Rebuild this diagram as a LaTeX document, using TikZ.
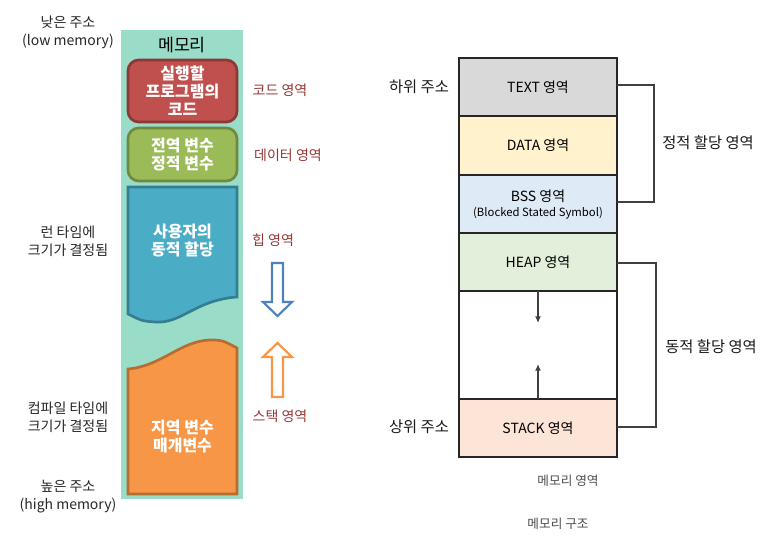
\documentclass[tikz,border=0pt]{standalone}
\usepackage{fontspec}
\setmainfont{Noto Sans CJK KR}
\definecolor{memteal}{HTML}{99DCC8}
\definecolor{codered}{HTML}{C0504D}
\definecolor{codeline}{HTML}{8C3836}
\definecolor{datagreen}{HTML}{9BBB59}
\definecolor{dataline}{HTML}{71893F}
\definecolor{heapblue}{HTML}{4BACC6}
\definecolor{heapline}{HTML}{357D91}
\definecolor{stackorange}{HTML}{F79646}
\definecolor{stackline}{HTML}{B66D31}
\definecolor{areared}{HTML}{953734}
\definecolor{arrowblue}{HTML}{4F81BD}
\definecolor{textgray}{HTML}{D9D9D9}
\definecolor{datayellow}{HTML}{FFF2CC}
\definecolor{bsslight}{HTML}{DEEBF7}
\definecolor{heaplight}{HTML}{E2EFDA}
\definecolor{stacklight}{HTML}{FCE4D6}
\definecolor{darkline}{HTML}{404040}
\tikzset{
  boxtext/.style={text=white, font=\fontsize{12}{13.5}\selectfont\bfseries, align=center},
  arealabel/.style={text=areared, font=\fontsize{10.5}{12}\selectfont},
  sidelabel/.style={text=black!85, font=\fontsize{10.5}{13.5}\selectfont, align=center},
  memcell/.style={draw=black!85, line width=1.1pt},
  celltext/.style={font=\fontsize{10.5}{12}\selectfont, align=center},
  addrlabel/.style={text=black!90, font=\fontsize{11.5}{13}\selectfont},
  brace/.style={draw=darkline, line width=1.1pt},
  growarrow/.style={draw=darkline, line width=1pt, -{Latex[length=5pt,width=4.5pt]}},
  captiontext/.style={text=black!70, font=\fontsize{9.5}{12}\selectfont},
}
\usetikzlibrary{arrows.meta}
\begin{document}
\begin{tikzpicture}[x=0.75pt,y=-0.75pt]
  \useasboundingbox (0,0) rectangle (781,538);
  % left panel: memory column
  \fill[memteal] (121,30) rectangle (243,499);
  \node[font=\fontsize{13}{15}\selectfont] (memtitle) at (182,45) {메모리};

  \draw[codeline, fill=codered, line width=2pt, rounded corners=8pt] (128,60) rectangle (237,122);
  \node[boxtext] (code) at (182.5,91) {실행할\\프로그램의\\코드};

  \draw[dataline, fill=datagreen, line width=2pt, rounded corners=8pt] (128,128) rectangle (237,181);
  \node[boxtext] (data) at (182.5,155) {전역 변수\\정적 변수};

  \draw[heapline, fill=heapblue, line width=2pt] (128,187) -- (237,187) -- (237,297)
    .. controls (195,300) and (182,324) .. (155,322) .. controls (142,321) .. (128,314) -- cycle;
  \node[boxtext] (heap) at (182.5,241) {사용자의\\동적 할당};

  \draw[stackline, fill=stackorange, line width=2pt] (128,494) -- (128,369)
    .. controls (162,366) and (180,341) .. (210,340) .. controls (222,340) .. (237,348) -- (237,494) -- cycle;
  \node[boxtext] (stack) at (182.5,437) {지역 변수\\매개변수};

  % growth arrows
  \draw[arrowblue, fill=white, line width=1.6pt, line join=miter]
    (272,263) -- (283,263) -- (283,302) -- (292,302) -- (277.5,316) -- (263,302) -- (272,302) -- cycle;
  \draw[stackorange, fill=white, line width=1.6pt, line join=miter]
    (272,397) -- (283,397) -- (283,357) -- (292,357) -- (277.5,343) -- (263,357) -- (272,357) -- cycle;

  % area names
  \node[arealabel] (codearea) at (280,90) {코드 영역};
  \node[arealabel] (dataarea) at (288,155) {데이터 영역};
  \node[arealabel] (heaparea) at (273,240) {힙 영역};
  \node[arealabel] (stackarea) at (280,416) {스택 영역};

  \node[sidelabel] (lowaddr) at (68,32) {낮은 주소\\(low memory)};
  \node[sidelabel] (runtime) at (68,241) {런 타임에\\크기가 결정됨};
  \node[sidelabel] (compiletime) at (68,417) {컴파일 타임에\\크기가 결정됨};
  \node[sidelabel] (highaddr) at (68,497) {높은 주소\\(high memory)};

  % right panel: memory layout
  \fill[textgray] (459,58) rectangle (617,116);
  \fill[datayellow] (459,116) rectangle (617,175);
  \fill[bsslight] (459,175) rectangle (617,233);
  \fill[heaplight] (459,233) rectangle (617,291);
  \fill[stacklight] (459,399) rectangle (617,457);
  \draw[memcell] (459,58) rectangle (617,457);
  \foreach \y in {116,175,233,291,399}
    \draw[memcell] (459,\y) -- (617,\y);

  \node[celltext] (textseg) at (538,87) {TEXT 영역};
  \node[celltext] (dataseg) at (538,145.5) {DATA 영역};
  \node[celltext] (bssseg) at (538,196) {BSS 영역};
  \node[font=\fontsize{8.5}{10}\selectfont] (bssfull) at (538,213) {(Blocked Stated Symbol)};
  \node[celltext] (heapseg) at (538,262) {HEAP 영역};
  \node[celltext] (stackseg) at (538,428) {STACK 영역};

  \coordinate (heapbot) at (538,291);
  \coordinate (heaptip) at (538,323);
  \coordinate (stacktop) at (538,399);
  \coordinate (stacktip) at (538,364);
  \draw[growarrow] (heapbot) -- (heaptip);
  \draw[growarrow] (stacktop) -- (stacktip);

  \coordinate (staticA) at (617,85);
  \coordinate (staticB) at (617,202);
  \coordinate (dynA) at (617,263);
  \coordinate (dynB) at (617,427);
  \draw[brace] (staticA) -- ++(37,0) |- (staticB);
  \draw[brace] (dynA) -- ++(39,0) |- (dynB);

  \node[addrlabel] (staticarea) at (708,143) {정적 할당 영역};
  \node[addrlabel] (dynarea) at (711,347) {동적 할당 영역};
  \node[addrlabel] (lowlabel) at (419,87) {하위 주소};
  \node[addrlabel] (highlabel) at (419,427) {상위 주소};

  \node[captiontext] (memarea) at (568,481) {메모리 영역};
  \node[captiontext] (memstruct) at (558,524) {메모리 구조};
\end{tikzpicture}
\end{document}
